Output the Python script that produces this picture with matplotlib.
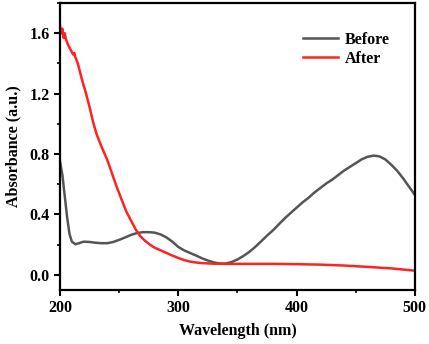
import matplotlib
matplotlib.use("Agg")
from matplotlib import pyplot as plt
from matplotlib.ticker import MultipleLocator

plt.rcParams['font.family'] = ['Liberation Serif', 'DejaVu Serif']
plt.rcParams['font.weight'] = 'bold'

# Before
wl_before = [200, 202, 204, 206, 208, 210, 213, 216, 220, 225, 230, 235, 240, 245, 250,
             255, 260, 265, 270, 275, 280, 285, 290, 295, 300, 305, 310, 315, 320, 325,
             330, 335, 340, 345, 350, 355, 360, 365, 370, 375, 380, 385, 390, 395, 400,
             405, 410, 415, 420, 425, 430, 435, 440, 445, 450, 455, 460, 465, 470, 475,
             480, 485, 490, 495, 500]
abs_before = [0.75, 0.66, 0.52, 0.38, 0.27, 0.22, 0.203, 0.21, 0.22, 0.218, 0.213, 0.21, 0.21,
              0.218, 0.232, 0.248, 0.265, 0.277, 0.283, 0.283, 0.28, 0.268, 0.248, 0.22, 0.185,
              0.162, 0.145, 0.128, 0.11, 0.095, 0.083, 0.075, 0.075, 0.085, 0.102, 0.125, 0.152,
              0.185, 0.222, 0.26, 0.295, 0.335, 0.375, 0.41, 0.445, 0.48, 0.51, 0.545, 0.575,
              0.605, 0.63, 0.66, 0.69, 0.715, 0.74, 0.765, 0.782, 0.79, 0.785, 0.765, 0.73,
              0.69, 0.64, 0.585, 0.53]

# After
wl_after = [200, 201, 202, 203, 204, 205, 207, 209, 211, 212, 213, 215, 217, 219, 222, 225,
            228, 231, 235, 240, 244, 248, 252, 256, 260, 264, 268, 272, 276, 280, 285, 290,
            295, 300, 305, 310, 315, 320, 330, 340, 360, 380, 400, 420, 440, 460, 480, 500]
abs_after = [1.65, 1.6, 1.63, 1.57, 1.6, 1.56, 1.52, 1.49, 1.46, 1.47, 1.44, 1.4, 1.34, 1.28,
             1.2, 1.11, 1.01, 0.93, 0.85, 0.76, 0.67, 0.58, 0.5, 0.42, 0.36, 0.3, 0.255, 0.225,
             0.2, 0.18, 0.163, 0.145, 0.128, 0.112, 0.098, 0.088, 0.082, 0.078, 0.074, 0.073,
             0.073, 0.073, 0.071, 0.068, 0.062, 0.053, 0.043, 0.028]

fig = plt.figure(figsize=(4.29, 3.44), dpi=100)
ax = fig.add_axes([0.14, 0.157, 0.827, 0.834])

ax.plot(wl_before, abs_before, color="#555555", lw=1.8, label="Before")
ax.plot(wl_after, abs_after, color="#ff2222", lw=1.8, label="After")

ax.set_xlim(200, 500)
ax.set_ylim(-0.1, 1.8)
ax.xaxis.set_major_locator(MultipleLocator(100))
ax.xaxis.set_minor_locator(MultipleLocator(50))
ax.yaxis.set_major_locator(MultipleLocator(0.4))
ax.yaxis.set_minor_locator(MultipleLocator(0.2))
ax.yaxis.set_major_formatter(plt.FormatStrFormatter("%.1f"))
ax.tick_params(which="major", direction="out", length=4, width=1.5, labelsize=11.5)
ax.tick_params(which="minor", direction="out", length=2.5, width=1.2)
for s in ax.spines.values():
    s.set_linewidth(1.6)

ax.set_xlabel("Wavelength (nm)", fontsize=11.5, fontweight="bold", labelpad=5)
ax.set_ylabel("Absorbance (a.u.)", fontsize=11.5, fontweight="bold", labelpad=6)
ax.legend(loc="upper right", bbox_to_anchor=(0.97, 0.95), frameon=False,
          prop={"size": 11.5, "weight": "bold"}, handlelength=2.2, labelspacing=0.2,
          handletextpad=0.4)

fig.savefig("out.png", dpi=100)
